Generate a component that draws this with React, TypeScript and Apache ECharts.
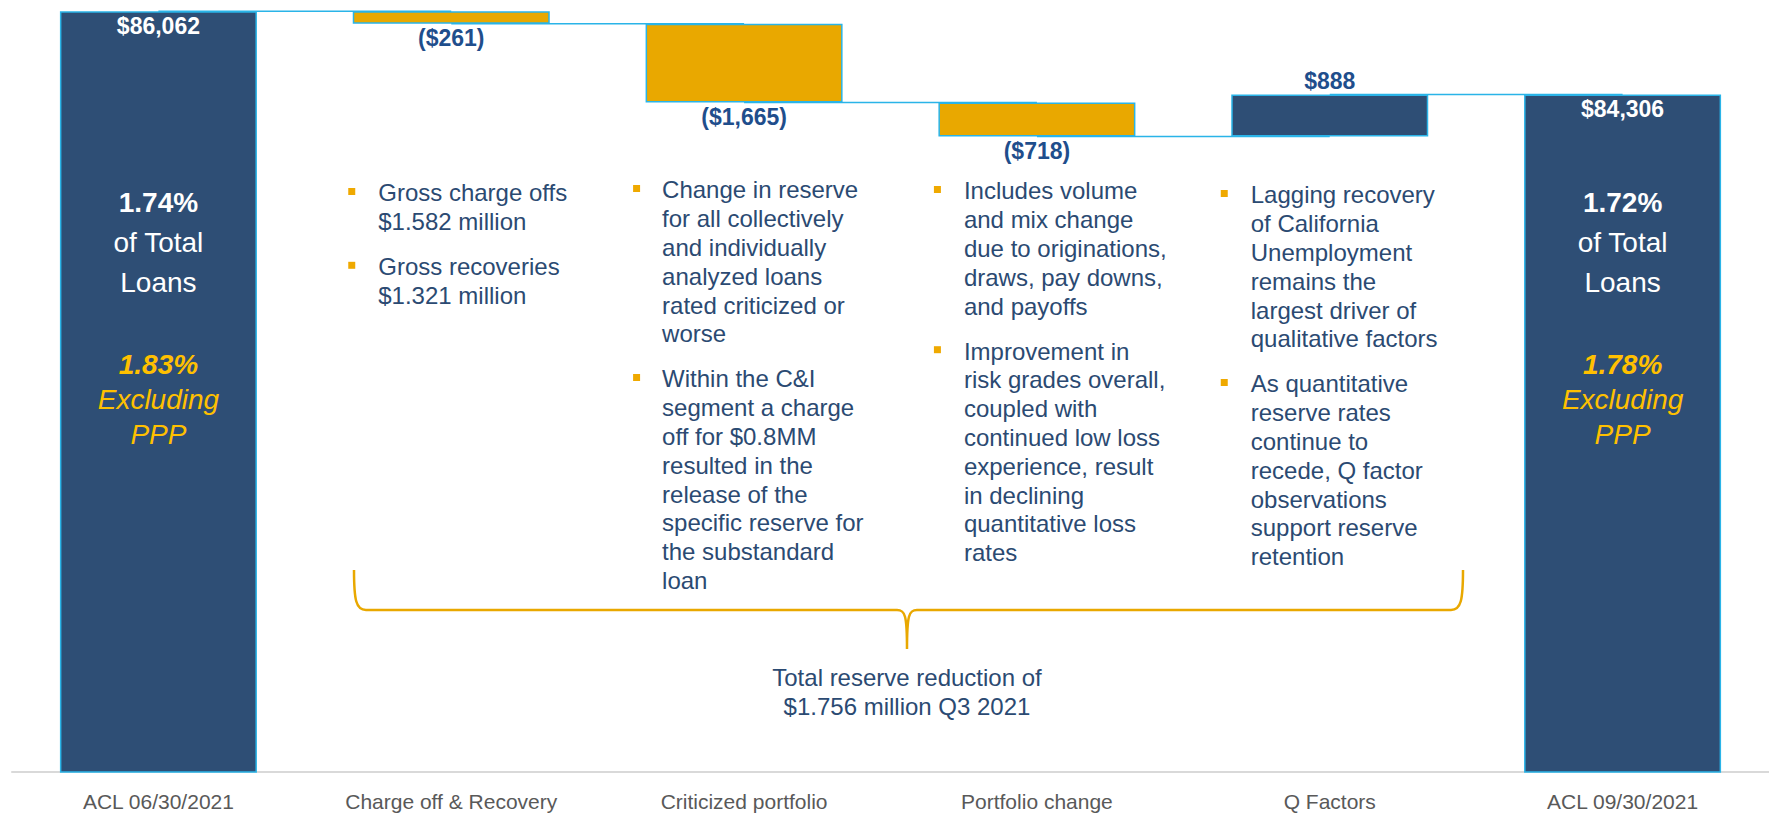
import React, { useEffect, useRef } from "react";
import * as echarts from "echarts";

// ---------- data ----------
const categories = [
  "ACL 06/30/2021",
  "Charge off & Recovery",
  "Criticized portfolio",
  "Portfolio change",
  "Q Factors",
  "ACL 09/30/2021",
];
const startBalance = 86062;
const changes = [-261, -1665, -718, 888];
const endBalance = 84306;
const axisMin = 70000;
const axisMax = 86300;

const startPct = ["1.74%", "of Total", "Loans"];
const startExPct = ["1.83%", "Excluding", "PPP"];
const endPct = ["1.72%", "of Total", "Loans"];
const endExPct = ["1.78%", "Excluding", "PPP"];

const notesChargeOff = [
  ["Gross charge offs", "$1.582 million"],
  ["Gross recoveries", "$1.321 million"],
];
const notesCriticized = [
  ["Change in reserve", "for all collectively", "and individually", "analyzed loans", "rated criticized or", "worse"],
  ["Within the C&I", "segment a charge", "off for $0.8MM", "resulted in the", "release of the", "specific reserve for", "the substandard", "loan"],
];
const notesPortfolio = [
  ["Includes volume", "and mix change", "due to originations,", "draws, pay downs,", "and payoffs"],
  ["Improvement in", "risk grades overall,", "coupled with", "continued low loss", "experience, result", "in declining", "quantitative loss", "rates"],
];
const notesQFactors = [
  ["Lagging recovery", "of California", "Unemployment", "remains the", "largest driver of", "qualitative factors"],
  ["As quantitative", "reserve rates", "continue to", "recede, Q factor", "observations", "support reserve", "retention"],
];
const totalNote = ["Total reserve reduction of", "$1.756 million Q3 2021"];

// ---------- styles ----------
const FONT = "'Liberation Sans', Arial, sans-serif";
const NAVY = "#2E4E75";
const GOLD_BAR = "#E9A800";
const EDGE = "#2AB4E8";
const LABEL_BLUE = "#1F4E8C";
const NOTE_TEXT = "#2B4A72";
const GOLD_TEXT = "#FFC000";
const BULLET = "#EFA900";

// ---------- waterfall derived from data ----------
const signedValues = [startBalance, ...changes, endBalance];
const baseValues: number[] = [0];
const barValues: number[] = [startBalance];
const levels: number[] = [startBalance];
let running = startBalance;
changes.forEach((c) => {
  const next = running + c;
  baseValues.push(Math.min(running, next));
  barValues.push(Math.abs(c));
  running = next;
  levels.push(running);
});
baseValues.push(0);
barValues.push(endBalance);

const money = (v: number) =>
  v < 0 ? `($${(-v).toLocaleString("en-US")})` : `$${v.toLocaleString("en-US")}`;

export default function App() {
  const ref = useRef<HTMLDivElement>(null);

  useEffect(() => {
    if (!ref.current) return;
    const chart = echarts.init(ref.current, undefined, { renderer: "svg" });

    const lastIdx = signedValues.length - 1;
    const deltaData = barValues.map((v, i) => {
      const isTotal = i === 0 || i === lastIdx;
      const sv = signedValues[i];
      return {
        value: v,
        itemStyle: { color: isTotal || sv > 0 ? NAVY : GOLD_BAR },
        label: isTotal
          ? { position: "insideTop", color: "#FFFFFF", distance: 3 }
          : sv < 0
          ? { position: "bottom", color: LABEL_BLUE, distance: 3 }
          : { position: "top", color: LABEL_BLUE, distance: 2 },
      };
    });

    chart.setOption({
      animation: false,
      grid: { left: 12, top: 0, width: 1764, height: 772, containLabel: false },
      xAxis: {
        type: "category",
        data: categories,
        axisLine: { lineStyle: { color: "#D9D9D9", width: 2 } },
        axisTick: { show: false },
        axisLabel: { color: "#595959", fontSize: 21, fontFamily: FONT, margin: 19 },
      },
      yAxis: {
        type: "value",
        min: axisMin,
        max: axisMax,
        show: false,
        splitLine: { show: false },
      },
      series: [
        {
          type: "custom",
          z: 1,
          silent: true,
          data: levels.map((lv, i) => [i, lv]),
          encode: { x: 0, y: 1 },
          renderItem: (params: any, api: any) => {
            const i = api.value(0);
            const lv = api.value(1);
            const p1 = api.coord([i, lv]);
            const p2 = api.coord([i + 1, lv]);
            return {
              type: "line",
              shape: { x1: p1[0], y1: p1[1], x2: p2[0], y2: p2[1] },
              style: { stroke: EDGE, lineWidth: 1.5 },
            };
          },
        },
        {
          type: "bar",
          stack: "wf",
          barWidth: 197,
          silent: true,
          itemStyle: { color: "transparent" },
          data: baseValues,
        },
        {
          type: "bar",
          stack: "wf",
          barWidth: 197,
          z: 3,
          itemStyle: { borderColor: EDGE, borderWidth: 1.5 },
          label: {
            show: true,
            fontSize: 23,
            fontWeight: "bold",
            fontFamily: FONT,
            formatter: (p: any) => money(signedValues[p.dataIndex]),
          },
          data: deltaData,
        },
      ],
    });

    const cx = (i: number) =>
      chart.convertToPixel({ xAxisIndex: 0 }, categories[i]) as number;

    const graphics: any[] = [];
    const addText = (
      text: string,
      x: number,
      y: number,
      opts: { size: number; weight?: string; italic?: boolean; color: string; align?: string; vAlign?: string; lh?: number }
    ) => {
      graphics.push({
        type: "text",
        z: 10,
        x,
        y,
        style: {
          text,
          fill: opts.color,
          fontSize: opts.size,
          fontFamily: FONT,
          fontWeight: opts.weight || "normal",
          fontStyle: opts.italic ? "italic" : "normal",
          align: opts.align || "center",
          verticalAlign: opts.vAlign || "middle",
          lineHeight: opts.lh,
        },
      });
    };

    // texts inside the two total bars
    const barBlock = (i: number, pct: string[], ex: string[]) => {
      const x = cx(i);
      const ys = [202, 242, 282];
      pct.forEach((t, k) =>
        addText(t, x, ys[k], { size: 28, weight: k === 0 ? "bold" : "normal", color: "#FFFFFF" })
      );
      const ys2 = [364, 399, 434];
      ex.forEach((t, k) =>
        addText(t, x, ys2[k], { size: 28, weight: k === 0 ? "bold" : "normal", italic: true, color: GOLD_TEXT })
      );
    };
    barBlock(0, startPct, startExPct);
    barBlock(5, endPct, endExPct);

    // bullet notes
    const LH = 28.8;
    const GAP = 45;
    const columns = [
      { cat: 1, notes: notesChargeOff, textOff: -73, bulletOff: -103, y0: 193 },
      { cat: 2, notes: notesCriticized, textOff: -82, bulletOff: -111, y0: 190 },
      { cat: 3, notes: notesPortfolio, textOff: -73, bulletOff: -103, y0: 191 },
      { cat: 4, notes: notesQFactors, textOff: -79, bulletOff: -109, y0: 195 },
    ];
    columns.forEach((col) => {
      const c = cx(col.cat);
      let y = col.y0;
      col.notes.forEach((para) => {
        graphics.push({
          type: "rect",
          z: 10,
          shape: { x: c + col.bulletOff, y: y - 5, width: 7, height: 7 },
          style: { fill: BULLET },
        });
        addText(para.join("\n"), c + col.textOff, y - LH / 2, {
          size: 24,
          color: NOTE_TEXT,
          align: "left",
          vAlign: "top",
          lh: LH,
        });
        y += (para.length - 1) * LH + GAP;
      });
    });

    // brace
    graphics.push({
      type: "brace",
      z: 10,
      x: 354,
      y: 570,
      style: { stroke: GOLD_BAR, lineWidth: 2.5, fill: "none" },
    });
    addText(totalNote[0], 907, 677, { size: 24, color: NOTE_TEXT });
    addText(totalNote[1], 907, 706, { size: 24, color: NOTE_TEXT });

    chart.setOption({ graphic: { elements: graphics } });

    return () => chart.dispose();
  }, []);

  return (
    <div
      ref={ref}
      style={{ position: "fixed", left: 0, top: 0, width: 1769, height: 814, background: "#FFFFFF" }}
    />
  );
}

echarts.graphic.registerShape(
  "brace",
  echarts.graphic.extendPath(
    "M0,0 C0,30 2,40 12,40 L543,40 C551,40 553,45 553,79 C553,45 555,40 563,40 L1097,40 C1107,40 1109,30 1109,0",
    {}
  )
);
